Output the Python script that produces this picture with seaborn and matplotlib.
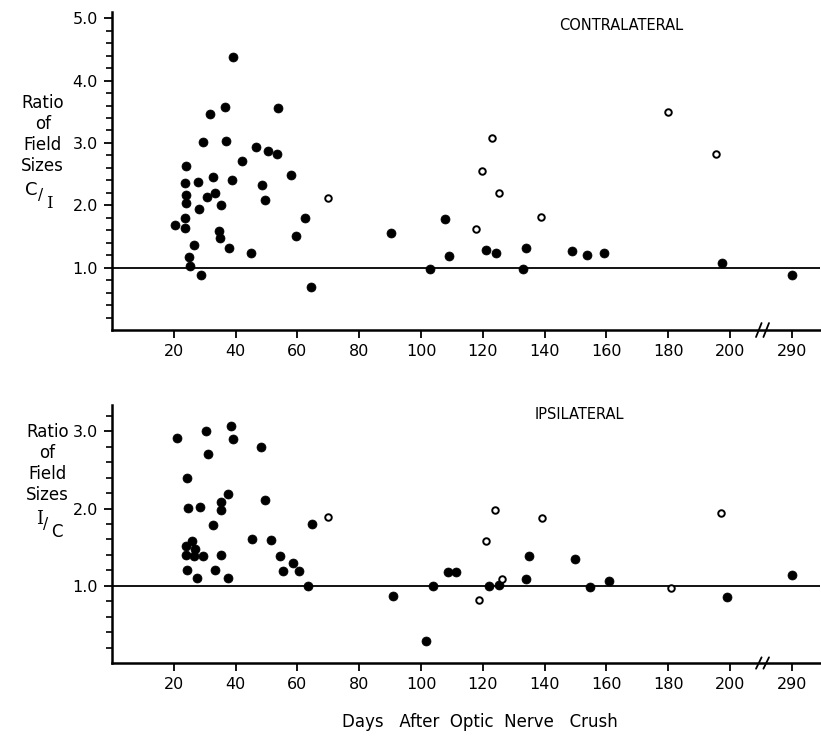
import numpy as np
import pandas as pd
import matplotlib
matplotlib.use("Agg")
import matplotlib.pyplot as plt
import seaborn as sns

sns.set_style("ticks")
plt.rcParams['font.family'] = ['DejaVu Sans']
plt.rcParams.update({"axes.edgecolor": "black", "text.color": "black",
                     "xtick.color": "black", "ytick.color": "black",
                     "axes.labelcolor": "black"})

# ---------------- data ----------------
# Contralateral (C/I)
contra_filled_days = [39, 36.6, 53.6, 31.7, 29.4, 36.8, 46.6, 50.6, 53.4, 42.2, 57.9, 24.0,
                      23.5, 27.9, 32.7, 38.8, 48.7, 24.1, 33.3, 30.7, 24.0, 49.6, 35.2, 28.0,
                      23.5, 62.6, 20.4, 23.6, 34.7, 35.0, 59.6, 26.6, 37.8, 45.1, 24.9, 25.1,
                      28.9, 64.4,
                      90.3, 107.7, 109.1, 102.9, 120.9, 124.3, 134.1, 133.0, 149.0, 153.7,
                      159.2, 197.5, 290]
contra_filled_vals = [4.38, 3.57, 3.56, 3.46, 3.01, 3.03, 2.94, 2.87, 2.83, 2.71, 2.49, 2.63,
                      2.36, 2.37, 2.45, 2.40, 2.32, 2.17, 2.19, 2.13, 2.04, 2.09, 2.00, 1.94,
                      1.79, 1.79, 1.68, 1.63, 1.58, 1.48, 1.50, 1.37, 1.31, 1.24, 1.17, 1.03,
                      0.89, 0.69,
                      1.55, 1.78, 1.19, 0.98, 1.29, 1.24, 1.32, 0.98, 1.27, 1.20,
                      1.23, 1.07, 0.88]
contra_open_days = [69.8, 180.0, 122.9, 195.5, 119.7, 125.1, 138.8, 117.7]
contra_open_vals = [2.12, 3.50, 3.08, 2.83, 2.55, 2.19, 1.82, 1.62]

# Ipsilateral (I/C)
ipsi_filled_days = [21.0, 30.3, 38.4, 39.0, 48.1, 31.2, 24.2, 37.4, 49.5, 35.2, 35.3, 24.5,
                    28.5, 32.6, 64.7, 45.3, 51.4, 25.8, 23.8, 26.9, 23.8, 26.5, 29.4, 35.3,
                    54.4, 58.7, 24.4, 33.3, 55.2, 60.6, 27.6, 37.5, 63.5,
                    135.1, 149.8, 108.6, 111.2, 134.0, 160.9, 103.8, 121.9, 125.2, 154.6,
                    91.0, 199.1, 101.5, 290]
ipsi_filled_vals = [2.91, 3.01, 3.07, 2.90, 2.80, 2.70, 2.40, 2.19, 2.11, 2.09, 1.98, 2.01,
                    2.02, 1.79, 1.80, 1.61, 1.59, 1.58, 1.51, 1.48, 1.40, 1.38, 1.39, 1.40,
                    1.39, 1.30, 1.21, 1.21, 1.19, 1.19, 1.10, 1.10, 1.00,
                    1.39, 1.35, 1.18, 1.18, 1.09, 1.06, 1.00, 1.00, 1.01, 0.98,
                    0.87, 0.85, 0.28, 1.14]
ipsi_open_days = [69.8, 123.8, 139.2, 197.0, 121.1, 126.3, 181.0, 118.8]
ipsi_open_vals = [1.89, 1.98, 1.88, 1.94, 1.58, 1.09, 0.97, 0.82]

x_ticks = [20, 40, 60, 80, 100, 120, 140, 160, 180, 200, 290]


def axis_pos(d):
    """Broken axis: days after the break (>205) are shifted so 290 sits at 220."""
    d = np.asarray(d, dtype=float)
    return np.where(d > 205, 220 + (d - 290), d)


def make_df(fd, fv, od, ov):
    df1 = pd.DataFrame({"day": fd, "ratio": fv, "kind": "filled"})
    df2 = pd.DataFrame({"day": od, "ratio": ov, "kind": "open"})
    df = pd.concat([df1, df2], ignore_index=True)
    df["pos"] = axis_pos(df["day"])
    return df


df_c = make_df(contra_filled_days, contra_filled_vals, contra_open_days, contra_open_vals)
df_i = make_df(ipsi_filled_days, ipsi_filled_vals, ipsi_open_days, ipsi_open_vals)

fig = plt.figure(figsize=(8.21, 7.38), dpi=100)
ax1 = fig.add_axes([0.1364, 0.5528, 0.862, 0.431])
ax2 = fig.add_axes([0.1364, 0.1016, 0.862, 0.3496])


def draw(ax, df, ymax, yticks, title, title_x, title_y):
    f = df[df.kind == "filled"]
    o = df[df.kind == "open"]
    sns.scatterplot(data=f, x="pos", y="ratio", ax=ax, color="black", s=42,
                    edgecolor="black", linewidth=0.5, zorder=3, legend=False)
    sns.scatterplot(data=o, x="pos", y="ratio", ax=ax, facecolor="white", s=22,
                    edgecolor="black", linewidth=1.4, zorder=3, legend=False)
    ax.axhline(1.0, color="black", lw=1.3, zorder=2)
    ax.set_xlim(0, 229)
    ax.set_ylim(0, ymax)
    ax.set_xticks(axis_pos(x_ticks))
    ax.set_xticklabels([str(t) for t in x_ticks], fontsize=11.5)
    ax.set_yticks(yticks)
    ax.set_yticklabels([f"{t:.1f}" for t in yticks], fontsize=11.5)
    ax.set_yticks(np.arange(0.2, ymax, 0.2), minor=True)
    ax.tick_params(axis="both", which="major", direction="out", length=6, width=1.3, pad=4)
    ax.tick_params(axis="y", which="minor", direction="out", length=4, width=1.2)
    ax.tick_params(axis="x", which="minor", length=0)
    for s in ["top", "right"]:
        ax.spines[s].set_visible(False)
    for s in ["left", "bottom"]:
        ax.spines[s].set_linewidth(1.8)
    ax.set_xlabel("")
    ax.set_ylabel("")
    ax.text(title_x, title_y, title, transform=ax.transAxes, ha="center", va="center",
            fontsize=10.5)
    # axis break mark
    bx = 210.5
    for dx in (-1.2, 1.2):
        ax.plot([bx + dx - 0.9, bx + dx + 0.9], [-0.022, 0.022], transform=ax.get_xaxis_transform(),
                color="black", lw=1.3, clip_on=False, zorder=4)


draw(ax1, df_c, 5.1, [1.0, 2.0, 3.0, 4.0, 5.0], "CONTRALATERAL", 0.72, 0.957)
draw(ax2, df_i, 3.34, [1.0, 2.0, 3.0], "IPSILATERAL", 0.66, 0.965)


# y labels
def ylab(x, ytop, num, den):
    lines = ["Ratio", "of", "Field", "Sizes"]
    step = 0.0285
    for k, t in enumerate(lines):
        fig.text(x, ytop - k * step, t, ha="center", va="center", fontsize=12)
    yb = ytop - 4 * step - 0.008
    fam = lambda c: "DejaVu Serif" if c == "I" else "DejaVu Sans"
    fig.text(x - 0.006, yb + 0.004, num, ha="right", va="center", fontsize=13,
             family=fam(num))
    fig.text(x - 0.006, yb - 0.004, "/", ha="left", va="center", fontsize=11)
    fig.text(x + 0.004, yb - 0.014, den, ha="left", va="center", fontsize=12,
             family=fam(den))


ylab(0.052, 1 - 103 / 738, "C", "I")
ylab(0.058, 1 - 432 / 738, "I", "C")

fig.text(0.585, 1 - 722 / 738, "Days   After  Optic  Nerve   Crush", ha="center",
         va="center", fontsize=12)

fig.savefig("out.png", dpi=100)
